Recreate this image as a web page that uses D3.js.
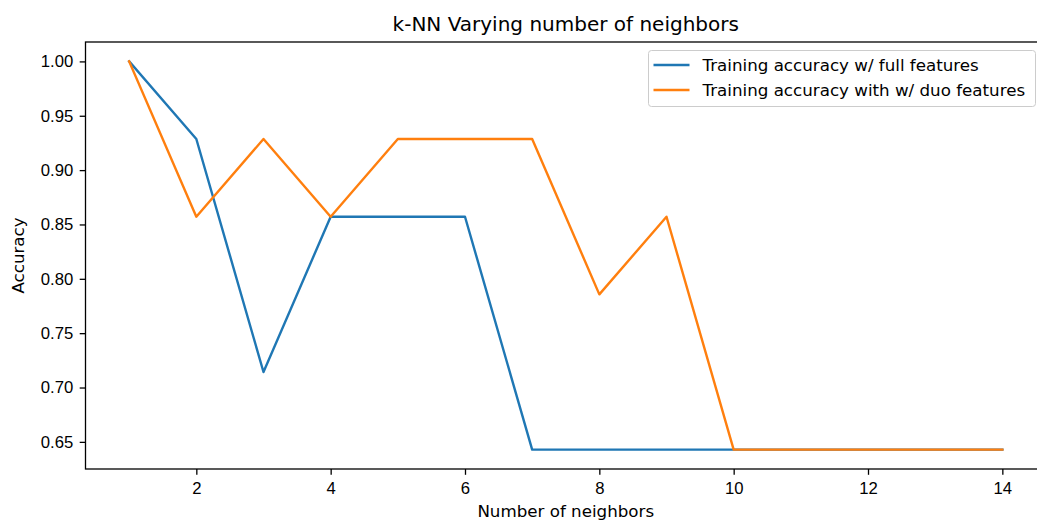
<!DOCTYPE html>
<html>
<head>
<meta charset="utf-8">
<script src="https://cdn.jsdelivr.net/npm/d3@7"></script>
<style>
  body { margin: 0; background: #fff; }
  svg { display: block; font-family: "DejaVu Sans", sans-serif; }
  .tick text { font-size: 16.7px; fill: #000; }
  .tick line { stroke: #000; stroke-width: 1.3; }
</style>
</head>
<body>
<div id="chart"></div>
<script>
// data
const neighbors = [1, 2, 3, 4, 5, 6, 7, 8, 9, 10, 11, 12, 13, 14];
const fullAcc = [1.0, 0.9286, 0.7143, 0.8571, 0.8571, 0.8571, 0.6429, 0.6429, 0.6429, 0.6429, 0.6429, 0.6429, 0.6429, 0.6429];
const duoAcc = [1.0, 0.8571, 0.9286, 0.8571, 0.9286, 0.9286, 0.9286, 0.7857, 0.8571, 0.6429, 0.6429, 0.6429, 0.6429, 0.6429];
const seriesNames = ["Training accuracy w/ full features", "Training accuracy with w/ duo features"];
const seriesColors = ["#1f77b4", "#ff7f0e"];
const xTicks = [2, 4, 6, 8, 10, 12, 14];
const yTicks = [0.65, 0.70, 0.75, 0.80, 0.85, 0.90, 0.95, 1.00];

const W = 1037, H = 522;
const plot = { left: 85.5, right: 1046, top: 42, bottom: 469 };

const svg = d3.select("#chart").append("svg")
    .attr("width", W).attr("height", H);

// matplotlib style 5% margins
const xMin = 1 - 0.05 * 13, xMax = 14 + 0.05 * 13;
const yLo = d3.min(fullAcc.concat(duoAcc)), yHi = d3.max(fullAcc.concat(duoAcc));
const yPad = (yHi - yLo) * 0.05;

const x = d3.scaleLinear().domain([xMin, xMax]).range([plot.left, plot.right]);
const y = d3.scaleLinear().domain([yLo - yPad, yHi + yPad]).range([plot.bottom, plot.top]);

//Lines
const series = [fullAcc, duoAcc].map(function(vals, i) {
  return { name: seriesNames[i], color: seriesColors[i],
           values: neighbors.map(function(n, j) { return { k: n, acc: vals[j] }; }) };
});
const line = d3.line().x(d => x(d.k)).y(d => y(d.acc));

svg.selectAll(".series")
  .data(series)
  .enter().append("path")
    .attr("class", "series")
    .attr("d", d => line(d.values))
    .attr("fill", "none")
    .attr("stroke", d => d.color)
    .attr("stroke-width", 2.4)
    .attr("stroke-linejoin", "round")
    .attr("stroke-linecap", "square");

//Axes
const xAxis = d3.axisBottom(x).tickValues(xTicks).tickFormat(d3.format("d"))
    .tickSizeInner(5.8).tickSizeOuter(0).tickPadding(5.8);
const yAxis = d3.axisLeft(y).tickValues(yTicks).tickFormat(d3.format(".2f"))
    .tickSizeInner(5.8).tickSizeOuter(0).tickPadding(6.5);

const gx = svg.append("g")
    .attr("transform", "translate(0," + plot.bottom + ")")
    .call(xAxis);
gx.select(".domain").remove();
gx.selectAll(".tick text").attr("dy", "0.8em");

const gy = svg.append("g")
    .attr("transform", "translate(" + plot.left + ",0)")
    .call(yAxis);
gy.select(".domain").remove();

// spines
svg.append("rect")
    .attr("x", plot.left).attr("y", plot.top)
    .attr("width", plot.right - plot.left).attr("height", plot.bottom - plot.top)
    .attr("fill", "none").attr("stroke", "#000").attr("stroke-width", 1.3);

//Titles
svg.append("text")
    .attr("x", (plot.left + plot.right) / 2).attr("y", 31)
    .attr("text-anchor", "middle").style("font-size", "20px")
    .text("k-NN Varying number of neighbors");
svg.append("text")
    .attr("x", (plot.left + plot.right) / 2).attr("y", 517)
    .attr("text-anchor", "middle").style("font-size", "16.7px")
    .text("Number of neighbors");
svg.append("text")
    .attr("transform", "rotate(-90)")
    .attr("x", -(plot.top + plot.bottom) / 2).attr("y", 24)
    .attr("text-anchor", "middle").style("font-size", "16.7px")
    .text("Accuracy");

//Legend
const legend = svg.append("g").attr("transform", "translate(648.5,50.5)");
legend.append("rect")
    .attr("width", 387).attr("height", 56).attr("rx", 3)
    .attr("fill", "#fff").attr("fill-opacity", 0.8)
    .attr("stroke", "#ccc").attr("stroke-width", 1);
const items = legend.selectAll(".item")
    .data(series)
    .enter().append("g")
    .attr("transform", (d, i) => "translate(0," + (14.5 + i * 25) + ")");
items.append("line")
    .attr("x1", 5).attr("x2", 41)
    .attr("stroke", d => d.color).attr("stroke-width", 2.4);
items.append("text")
    .attr("x", 54).attr("dy", "0.35em")
    .style("font-size", "16.7px")
    .text(d => d.name);
</script>
</body>
</html>
